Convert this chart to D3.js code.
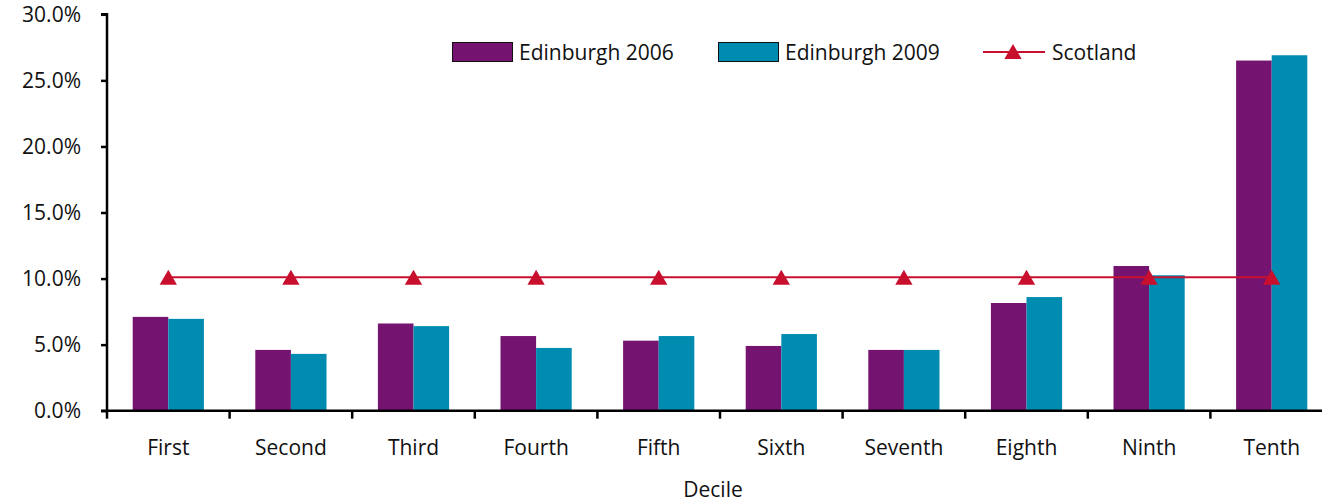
<!DOCTYPE html>
<html>
<head>
<meta charset="utf-8">
<script src="https://cdn.jsdelivr.net/npm/d3@7"></script>
<style>
  body { margin: 0; background: #fff; }
  svg { display: block; font-family: "Open Sans", sans-serif; }
</style>
</head>
<body>
<svg width="1322" height="503"></svg>
<script>
// deciles and values (percent)
var deciles = ["First", "Second", "Third", "Fourth", "Fifth", "Sixth", "Seventh", "Eighth", "Ninth", "Tenth"];
var edinburgh2006 = [7.1, 4.6, 6.6, 5.65, 5.3, 4.9, 4.6, 8.15, 10.95, 26.5];
var edinburgh2009 = [6.95, 4.3, 6.4, 4.75, 5.65, 5.8, 4.6, 8.6, 10.25, 26.9];
var scotland = [10.1, 10.1, 10.1, 10.1, 10.1, 10.1, 10.1, 10.1, 10.1, 10.1];
var yTicks = [0, 5, 10, 15, 20, 25, 30];

var PURPLE = "#741470",
    TEAL = "#008bb0",
    RED = "#c8102e";

var svg = d3.select("svg"),
    plotLeft = 107,
    plotTop = 14.3,
    plotBottom = 410.7,
    plotRight = 1333;

var x = d3.scaleBand().domain(deciles).range([plotLeft, plotRight]).paddingInner(0).paddingOuter(0);
var y = d3.scaleLinear().domain([0, 30]).range([plotBottom, plotTop]);

var bw = 35.6;  // single bar width
var pad = (x.bandwidth() - 2 * bw) / 2;

// bars
var g = svg.append("g");
g.selectAll("rect.b06").data(deciles).enter().append("rect")
    .attr("x", function(d) { return x(d) + pad; })
    .attr("y", function(d, i) { return y(edinburgh2006[i]); })
    .attr("width", bw)
    .attr("height", function(d, i) { return plotBottom - y(edinburgh2006[i]); })
    .attr("fill", PURPLE);
g.selectAll("rect.b09").data(deciles).enter().append("rect")
    .attr("x", function(d) { return x(d) + pad + bw; })
    .attr("y", function(d, i) { return y(edinburgh2009[i]); })
    .attr("width", bw)
    .attr("height", function(d, i) { return plotBottom - y(edinburgh2009[i]); })
    .attr("fill", TEAL);

// scotland line
var line = d3.line()
    .x(function(d, i) { return x(deciles[i]) + x.bandwidth() / 2; })
    .y(function(d) { return y(d); });
svg.append("path").datum(scotland)
    .attr("d", line)
    .attr("fill", "none")
    .attr("stroke", RED)
    .attr("stroke-width", 2);
var tri = d3.symbol().type(d3.symbolTriangle).size(130);
svg.selectAll("path.mk").data(scotland).enter().append("path")
    .attr("transform", function(d, i) { return "translate(" + (x(deciles[i]) + x.bandwidth() / 2) + "," + (y(d) + 2.5) + ")"; })
    .attr("d", tri)
    .attr("fill", RED);

// axes
var yAxis = d3.axisLeft(y).tickValues(yTicks).tickSize(6).tickPadding(20)
    .tickFormat(function(d) { return d.toFixed(1) + "%"; });
var ya = svg.append("g").attr("transform", "translate(" + plotLeft + ",0)").call(yAxis);
ya.select(".domain").attr("stroke", "#000").attr("stroke-width", 2.5).attr("d", "M-6," + plotTop + "H0V" + plotBottom);
ya.selectAll(".tick line").attr("stroke", "#000").attr("stroke-width", 2.5);
ya.selectAll(".tick text").attr("font-size", 21).attr("fill", "#111").attr("font-family", "Open Sans, sans-serif");

var xAxis = d3.axisBottom(x).tickSize(0).tickPadding(29);
var xa = svg.append("g").attr("transform", "translate(0," + plotBottom + ")").call(xAxis);
xa.select(".domain").attr("stroke", "#000").attr("stroke-width", 2.5).attr("d", "M" + (plotLeft - 6) + ",0H" + plotRight);
xa.selectAll(".tick text").attr("font-size", 21).attr("fill", "#111").attr("font-family", "Open Sans, sans-serif");
// boundary ticks between categories
svg.append("g").selectAll("line").data(deciles).enter().append("line")
    .attr("x1", function(d) { return x(d); })
    .attr("x2", function(d) { return x(d); })
    .attr("y1", plotBottom)
    .attr("y2", plotBottom + 8)
    .attr("stroke", "#000")
    .attr("stroke-width", 2.5);

svg.append("text")
    .attr("x", 713).attr("y", 497)
    .attr("text-anchor", "middle")
    .attr("font-size", 21).attr("fill", "#111")
    .text("Decile");

// legend
var leg = svg.append("g");
leg.append("rect").attr("x", 452.5).attr("y", 42.5).attr("width", 60).attr("height", 19)
    .attr("fill", PURPLE).attr("stroke", "#111").attr("stroke-width", 1);
leg.append("text").attr("x", 519).attr("y", 60).attr("font-size", 21).attr("fill", "#111").text("Edinburgh 2006");
leg.append("rect").attr("x", 718.5).attr("y", 42.5).attr("width", 60).attr("height", 19)
    .attr("fill", TEAL).attr("stroke", "#111").attr("stroke-width", 1);
leg.append("text").attr("x", 785).attr("y", 60).attr("font-size", 21).attr("fill", "#111").text("Edinburgh 2009");
leg.append("line").attr("x1", 983).attr("x2", 1045).attr("y1", 52).attr("y2", 52)
    .attr("stroke", RED).attr("stroke-width", 2);
leg.append("path").attr("transform", "translate(1013,54)").attr("d", tri).attr("fill", RED);
leg.append("text").attr("x", 1052).attr("y", 60).attr("font-size", 21).attr("fill", "#111").text("Scotland");
</script>
</body>
</html>
